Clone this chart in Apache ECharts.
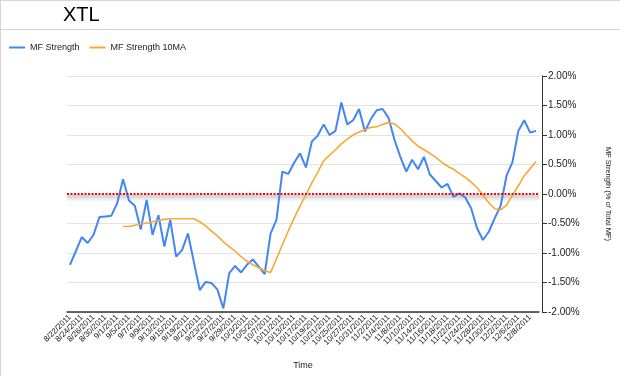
<!DOCTYPE html>
<html>
<head>
<meta charset="utf-8">
<script src="https://cdn.jsdelivr.net/npm/echarts@6/dist/echarts.min.js"></script>
<style>
    html, body { margin: 0; padding: 0; background: #fff; }
    #chart { width: 620px; height: 376px; }
</style>
</head>
<body>
<div id="chart"></div>
<script>
// trading days shown on the x axis (labels every other day)
var days = [
    '8/22/2011', '8/23/2011', '8/24/2011', '8/25/2011', '8/26/2011', '8/29/2011', '8/30/2011', '8/31/2011',
    '9/1/2011', '9/2/2011', '9/5/2011', '9/6/2011', '9/7/2011', '9/8/2011', '9/9/2011', '9/12/2011',
    '9/13/2011', '9/14/2011', '9/15/2011', '9/16/2011', '9/19/2011', '9/20/2011', '9/21/2011', '9/22/2011',
    '9/23/2011', '9/26/2011', '9/27/2011', '9/28/2011', '9/29/2011', '9/30/2011',
    '10/3/2011', '10/4/2011', '10/5/2011', '10/6/2011', '10/7/2011', '10/10/2011', '10/11/2011', '10/12/2011',
    '10/13/2011', '10/14/2011', '10/17/2011', '10/18/2011', '10/19/2011', '10/20/2011', '10/21/2011',
    '10/24/2011', '10/25/2011', '10/26/2011', '10/27/2011', '10/28/2011', '10/31/2011',
    '11/1/2011', '11/2/2011', '11/3/2011', '11/4/2011', '11/7/2011', '11/8/2011', '11/9/2011', '11/10/2011',
    '11/11/2011', '11/14/2011', '11/15/2011', '11/16/2011', '11/17/2011', '11/18/2011', '11/21/2011',
    '11/22/2011', '11/23/2011', '11/24/2011', '11/25/2011', '11/28/2011', '11/29/2011', '11/30/2011',
    '12/1/2011', '12/2/2011', '12/5/2011', '12/6/2011', '12/7/2011', '12/8/2011', '12/9/2011'
]

// MF Strength, % of total MF
var strength = [
    -1.20, -0.97, -0.73, -0.83, -0.69, -0.39, -0.38, -0.37, -0.16, 0.25,
    -0.11, -0.20, -0.60, -0.10, -0.69, -0.36, -0.89, -0.44, -1.06, -0.95,
    -0.67, -1.15, -1.63, -1.49, -1.51, -1.62, -1.94, -1.34, -1.22, -1.33,
    -1.20, -1.11, -1.23, -1.36, -0.67, -0.44, 0.38, 0.34, 0.53, 0.69,
    0.45, 0.89, 0.99, 1.18, 1.00, 1.07, 1.55, 1.18, 1.25, 1.44,
    1.06, 1.27, 1.42, 1.44, 1.29, 0.92, 0.63, 0.38, 0.58, 0.42,
    0.63, 0.33, 0.22, 0.11, 0.17, -0.05, 0.01, -0.06, -0.24, -0.58,
    -0.78, -0.64, -0.41, -0.20, 0.31, 0.54, 1.07, 1.25, 1.04, 1.07
]

// 10 day average, starts on the 10th day
var strength10 = [
    null, null, null, null, null, null, null, null, null, -0.55,
    -0.55, -0.53, -0.51, -0.49, -0.47, -0.45, -0.43, -0.42, -0.42, -0.42,
    -0.42, -0.42, -0.47, -0.54, -0.63, -0.71, -0.81, -0.89, -0.97, -1.06,
    -1.14, -1.20, -1.25, -1.30, -1.33, -1.10, -0.86, -0.63, -0.41, -0.20,
    -0.01, 0.19, 0.37, 0.56, 0.66, 0.75, 0.85, 0.93, 1.00, 1.05,
    1.09, 1.13, 1.14, 1.18, 1.21, 1.19, 1.11, 1.00, 0.90, 0.81,
    0.75, 0.69, 0.62, 0.54, 0.47, 0.42, 0.35, 0.28, 0.20, 0.11,
    -0.02, -0.15, -0.25, -0.27, -0.19, -0.02, 0.14, 0.31, 0.43, 0.55
]

var seriesNames = ['MF Strength', 'MF Strength 10MA']

var myChart = echarts.init(document.getElementById('chart'))
myChart.setOption({
    animation: false,
    textStyle: {
        fontFamily: 'Liberation Sans, Arial, sans-serif'
    },
    title: {
        text: 'XTL',
        left: 58,
        top: 0,
        textStyle: {
            fontSize: 20,
            fontWeight: 'normal',
            color: '#000'
        }
    },
    graphic: [
        { type: 'line', shape: { x1: 0, y1: 0.5, x2: 620, y2: 0.5 }, style: { stroke: '#d4d4d4', lineWidth: 1 } },
        { type: 'line', shape: { x1: 0.5, y1: 0, x2: 0.5, y2: 376 }, style: { stroke: '#d4d4d4', lineWidth: 1 } },
        { type: 'line', shape: { x1: 0, y1: 29.5, x2: 620, y2: 29.5 }, style: { stroke: '#d4d4d4', lineWidth: 1 } }
    ],
    legend: {
        data: seriesNames,
        left: 4,
        top: 38,
        icon: 'rect',
        itemWidth: 16,
        itemHeight: 2,
        itemGap: 10,
        textStyle: {
            fontSize: 9,
            color: '#222'
        }
    },
    grid: {
        left: 67,
        right: 80,
        top: 76,
        bottom: 64
    },
    xAxis: {
        type: 'category',
        data: days,
        name: 'Time',
        nameLocation: 'middle',
        nameGap: 49,
        nameTextStyle: {
            fontSize: 9,
            color: '#222'
        },
        axisLine: {
            onZero: false, // 轴线放在底部
            lineStyle: { color: '#333', width: 1.5 }
        },
        axisTick: {
            interval: 1,
            alignWithLabel: true,
            length: 3,
            lineStyle: { color: '#333' }
        },
        axisLabel: {
            interval: 1,
            rotate: 45,
            fontSize: 8,
            margin: 4,
            color: '#222'
        },
        splitLine: { show: false }
    },
    yAxis: {
        type: 'value',
        position: 'right',
        offset: 3,
        min: -2,
        max: 2,
        interval: 0.5,
        name: 'MF Strength (% of Total MF)',
        nameLocation: 'middle',
        nameRotate: -90,
        nameGap: 62,
        nameTextStyle: {
            fontSize: 7.5,
            color: '#222'
        },
        axisLine: {
            show: true,
            lineStyle: { color: '#333', width: 1 }
        },
        axisTick: {
            show: true,
            length: 5,
            lineStyle: { color: '#333' }
        },
        axisLabel: {
            fontSize: 10,
            margin: 6,
            color: '#222',
            formatter: function (v) {
                return (Math.abs(v) < 1e-9 ? 0 : v).toFixed(2) + '%'
            }
        },
        splitLine: {
            lineStyle: { color: '#e3e3e3', width: 1 }
        }
    },
    series: [
        {
            name: seriesNames[0],
            type: 'line',
            data: strength,
            showSymbol: false,
            lineStyle: { color: '#4285f4', width: 2 },
            itemStyle: { color: '#4285f4' },
            markArea: { // 零线下的阴影
                silent: true,
                itemStyle: {
                    color: new echarts.graphic.LinearGradient(0, 0, 0, 1, [
                        { offset: 0, color: 'rgba(0,0,0,0.2)' },
                        { offset: 1, color: 'rgba(0,0,0,0)' }
                    ])
                },
                data: [[{ yAxis: -0.02 }, { yAxis: -0.13 }]]
            }
        },
        {
            name: seriesNames[1],
            type: 'line',
            data: strength10,
            showSymbol: false,
            connectNulls: false,
            lineStyle: { color: '#f6a933', width: 1.6 },
            itemStyle: { color: '#f6a933' },
            z: 3,
            markLine: { // 红色零线
                silent: true,
                symbol: 'none',
                label: { show: false },
                lineStyle: { color: '#ff0000', width: 2, type: [2, 1.5], cap: 'butt', opacity: 1 },
                emphasis: { disabled: true },
                data: [{ yAxis: 0 }]
            }
        }
    ]
})
</script>
</body>
</html>
